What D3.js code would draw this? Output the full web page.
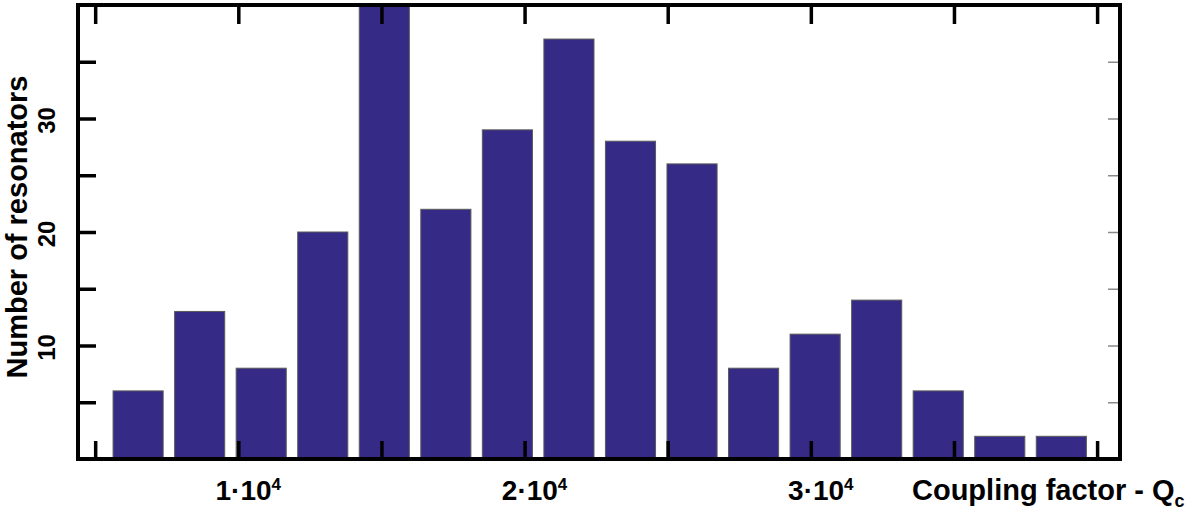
<!DOCTYPE html>
<html>
<head>
<meta charset="utf-8">
<script src="https://cdn.jsdelivr.net/npm/d3@7"></script>
<style>
  body { margin: 0; background: #fff; }
  svg text { font-family: "Liberation Sans", Arial, sans-serif; font-weight: bold; fill: #000; }
</style>
</head>
<body>
<svg id="chart" width="1200" height="514"></svg>
<script>
// Histogram bins (centre of each bar, Qc) and counts
var binCenters = [6500, 8650, 10800, 12950, 15100, 17250, 19400, 21550,
                  23700, 25850, 28000, 30150, 32300, 34450, 36600, 38750];
var counts = [6, 13, 8, 20, 40, 22, 29, 37, 28, 26, 8, 11, 14, 6, 2, 2];
var binWidth = 1750;

var xTicks = [5000, 10000, 15000, 20000, 25000, 30000, 35000, 40000];
var xLabelled = [10000, 20000, 30000];
var yTicks = [5, 10, 15, 20, 25, 30, 35];
var yLabelled = [10, 20, 30];

// Plot frame (not named "top": that is window.top)
var frameLeft = 78, frameRight = 1120, frameTop = 5, frameBottom = 459;

var svg = d3.select("#chart");

var x = d3.scaleLinear().domain([4400, 40800]).range([frameLeft, frameRight]);
var y = d3.scaleLinear().domain([0, 40]).range([frameBottom, frameTop]);

// Bars
svg.append("g")
  .selectAll("rect")
  .data(counts)
  .enter()
  .append("rect")
  .attr("x", function (d, i) { return x(binCenters[i] - binWidth / 2); })
  .attr("width", function (d, i) { return x(binCenters[i] + binWidth / 2) - x(binCenters[i] - binWidth / 2); })
  .attr("y", function (d) { return y(d); })
  .attr("height", function (d) { return y(0) - y(d); })
  .style("fill", "#352a86")
  .style("stroke", "#5a5a5a")
  .style("stroke-width", 1);

// Ticks, pointing inward
function styleTicks(sel, colour, width) {
  sel.select(".domain").remove();
  sel.selectAll("line").style("stroke", colour).style("stroke-width", width);
}

svg.append("g")
  .attr("transform", "translate(0," + frameBottom + ")")
  .call(d3.axisBottom(x).tickValues(xTicks).tickSizeInner(-18).tickSizeOuter(0).tickFormat(""))
  .call(styleTicks, "#000", 3.5);

svg.append("g")
  .attr("transform", "translate(0," + frameTop + ")")
  .call(d3.axisTop(x).tickValues(xTicks).tickSizeInner(-19).tickSizeOuter(0).tickFormat(""))
  .call(styleTicks, "#000", 3.5);

svg.append("g")
  .attr("transform", "translate(" + frameLeft + ",0)")
  .call(d3.axisLeft(y).tickValues(yTicks).tickSizeInner(-18).tickSizeOuter(0).tickFormat(""))
  .call(styleTicks, "#000", 3.5);

svg.append("g")
  .attr("transform", "translate(" + frameRight + ",0)")
  .call(d3.axisRight(y).tickValues(yTicks).tickSizeInner(-12).tickSizeOuter(0).tickFormat(""))
  .call(styleTicks, "#8a8a8a", 1.5);

// Frame
svg.append("rect")
  .attr("x", frameLeft).attr("y", frameTop)
  .attr("width", frameRight - frameLeft).attr("height", frameBottom - frameTop)
  .style("fill", "none")
  .style("stroke", "#000")
  .style("stroke-width", 4);

// X tick labels: n·10^4
var xl = svg.append("g").selectAll("text")
  .data(xLabelled)
  .enter()
  .append("text")
  .attr("x", function (d) { return x(d) + 10; })
  .attr("y", 500)
  .attr("text-anchor", "middle")
  .style("font-size", "28px");
xl.append("tspan").text(function (d) { return (d / 10000) + "\u00b710"; });
xl.append("tspan").attr("dy", -10).style("font-size", "17px").text("4");

// Y tick labels, rotated
svg.append("g").selectAll("text")
  .data(yLabelled)
  .enter()
  .append("text")
  .attr("transform", function (d) { return "translate(55," + (y(d) + 2) + ") rotate(-90)"; })
  .attr("text-anchor", "middle")
  .style("font-size", "24px")
  .text(function (d) { return d; });

// Axis titles
svg.append("text")
  .attr("transform", "translate(27,227) rotate(-90)")
  .attr("text-anchor", "middle")
  .style("font-size", "29px")
  .text("Number of resonators");

var xt = svg.append("text")
  .attr("x", 912)
  .attr("y", 500)
  .style("font-size", "29px");
xt.append("tspan").text("Coupling factor - Q");
xt.append("tspan").attr("dy", 7).style("font-size", "18px").text("c");
</script>
</body>
</html>
